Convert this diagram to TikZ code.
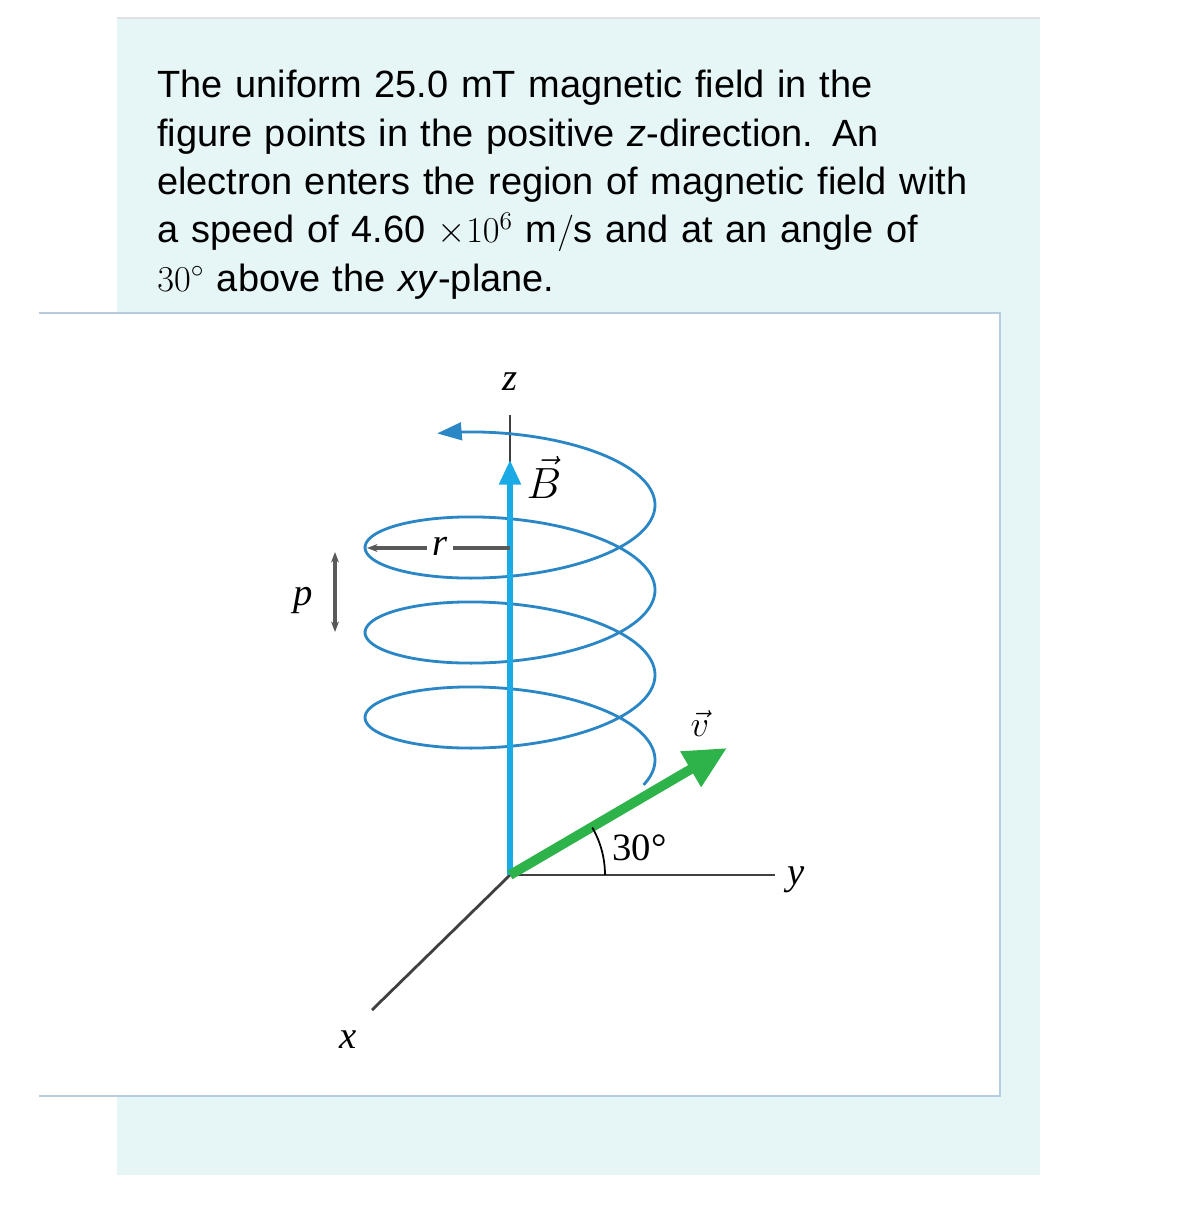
\documentclass[tikz,border=0pt]{standalone}
\usepackage{fontspec}
\setmainfont{Liberation Sans}
\newfontfamily\tms{Liberation Serif}
\usetikzlibrary{arrows.meta}
\definecolor{panel}{HTML}{E6F5F6}
\definecolor{boxline}{HTML}{B8CCE0}
\definecolor{helix}{HTML}{2A86C4}
\definecolor{bcol}{HTML}{1AABE6}
\definecolor{gcol}{HTML}{2DB34A}
\tikzset{lbl/.style={font=\tms\itshape\fontsize{22}{24}\selectfont, inner sep=0pt},
 ax/.style={draw=black!75, line width=1.6pt}}
\begin{document}
\begin{tikzpicture}[x=0.02cm,y=-0.02cm]
\useasboundingbox (0,0) rectangle (1179,1214);
\fill[white] (0,0) rectangle (1179,1214);
\fill[panel] (117,18) rectangle (1040,1175);
\draw[black!12, line width=1.5pt] (117,18) -- (1040,18);
\fill[white] (39,313) rectangle (1000,1096);
\draw[boxline, line width=1.2pt] (39,313) -- (1000,313) -- (1000,1096) -- (39,1096);
\node[anchor=north west, align=left, inner sep=0pt, text width=900*0.02cm, font=\fontsize{21.6}{27.5}\selectfont] (txt) at (157,70)
{The uniform 25.0 $\mathrm{mT}$ magnetic field in the\\
figure points in the positive \textit{z}-direction. An\\
electron enters the region of magnetic field with\\
a speed of 4.60 $\times10^6\ \mathrm{m/s}$ and at an angle of\\
$30^\circ$ above the \textit{xy}-plane.};
% origin and axes
\coordinate (O) at (510,875);
\coordinate (zt) at (510,415);
\coordinate (xe) at (372,1010);
\coordinate (ye) at (775,875);
\draw[ax] (O) -- (zt);
\draw[ax] (O) -- (xe);
\draw[ax] (O) -- (ye);
\node[lbl] (zl) at (510,382) {z};
\node[lbl] (xl) at (348,1040) {x};
\node[lbl] (yl) at (796,880) {y};
% helix
\draw[helix, line width=1.6pt, -{Triangle[length=14pt,width=10pt]}, domain=-0.4:20.95, samples=300, smooth, variable=\t]
 plot ({510+145*cos(\t r)}, {760-85*\t/6.2832-50*sin(\t r)});
% B
\coordinate (Bt) at (510,460);
\draw[bcol, line width=3pt, -{Triangle[length=14pt,width=12pt]}] (O) -- (Bt);
\node[lbl, font=\tms\itshape\fontsize{24}{24}\selectfont] (Bl) at (544,477) {$\vec{B}$};
% r
\coordinate (rl) at (367,548);
\coordinate (rr) at (510,548);
\draw[black!65, line width=2pt, {Stealth[length=6pt]}-] (rl) -- (rr);
\node[lbl, fill=white, inner xsep=3pt] (rlab) at (440,546) {r};
% p
\coordinate (pt) at (335,552);
\coordinate (pb) at (335,632);
\draw[black!65, line width=2.2pt, {Stealth[length=6pt]}-{Stealth[length=6pt]}] (pt) -- (pb);
\node[lbl] (pl) at (303,600) {p};
% v
\coordinate (vt) at (727,748);
\draw[gcol, line width=5.5pt, -{Triangle[length=24pt,width=22pt]}] (O) -- (vt);
\node[lbl] (vl) at (700,724) {$\vec{v}$};
% angle
\draw[black, line width=1pt] ([shift={(0:95)}]O) arc[start angle=0, end angle=-30, radius=95];
\node[lbl, font=\tms\fontsize{22}{24}\selectfont, anchor=west] (al) at (612,848) {30°};
\end{tikzpicture}
\end{document}
